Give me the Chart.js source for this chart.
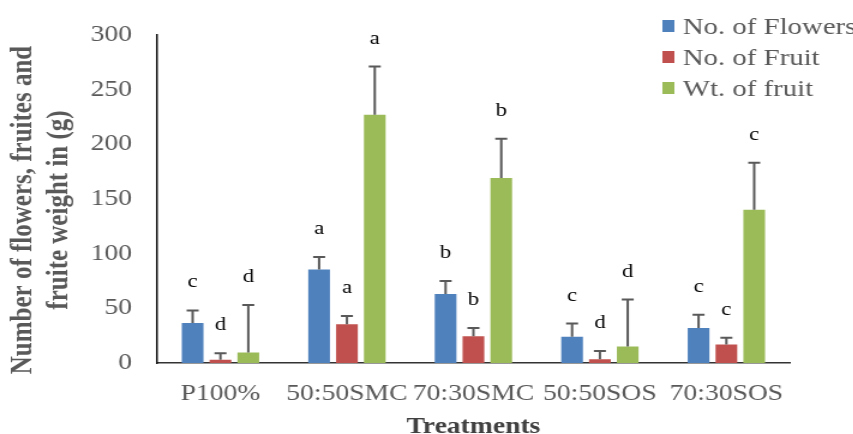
<!DOCTYPE html>
<html>
<head>
<meta charset="utf-8">
<script src="https://cdn.jsdelivr.net/npm/chart.js@4.4.0/dist/chart.umd.min.js"></script>
<style>
    html, body { margin: 0; padding: 0; background: #fff; overflow: hidden; }
    /* the reference is stretched sideways, so draw narrow and stretch */
    #wrap { width: 711px; height: 434px; transform: scaleX(1.2); transform-origin: 0 0; }
</style>
</head>
<body>
<div id="wrap"><canvas id="myChart"></canvas></div>
<script>
const treatments = ['P100%', '50:50SMC', '70:30SMC', '50:50SOS', '70:30SOS'];
const seriesNames = ['No. of Flowers', 'No. of Fruit', 'Wt. of fruit'];
const seriesColors = ['#4F81BD', '#C0504D', '#9BBB59'];

const flowers = [36.5, 85.5, 63, 24, 32];
const fruit = [3, 35.5, 24.5, 3.5, 17];
const fruitWeight = [9.5, 227, 169, 15, 140];

const flowersErr = [11.5, 11.5, 12, 12, 12];
const fruitErr = [6, 7.5, 7.5, 7.5, 6];
const fruitWeightErr = [43.5, 44, 36, 43, 43];

const flowersLetters = ['c', 'a', 'b', 'c', 'c'];
const fruitLetters = ['d', 'a', 'b', 'd', 'c'];
const fruitWeightLetters = ['d', 'a', 'b', 'd', 'c'];

const yTicks = [0, 50, 100, 150, 200, 250, 300];
const yTitle = ['Number of flowers, fruites and', 'fruite weight in (g)'];

const allValues = [flowers, fruit, fruitWeight];
const allErrors = [flowersErr, fruitErr, fruitWeightErr];
const allLetters = [flowersLetters, fruitLetters, fruitWeightLetters];

const serif = '"Liberation Serif", "Times New Roman", serif';

// upward error bars and the letters over them
const errorBars = {
    id: 'errorBars',
    afterDatasetsDraw(chart) {
        const ctx = chart.ctx;
        const yScale = chart.scales.y;
        ctx.save();
        chart.data.datasets.forEach((ds, i) => {
            const meta = chart.getDatasetMeta(i);
            meta.data.forEach((bar, j) => {
                const top = yScale.getPixelForValue(allValues[i][j] + allErrors[i][j]);
                ctx.strokeStyle = '#595959';
                ctx.lineWidth = 2;
                ctx.beginPath();
                ctx.moveTo(bar.x, bar.y);
                ctx.lineTo(bar.x, top);
                ctx.moveTo(bar.x - 5, top);
                ctx.lineTo(bar.x + 5, top);
                ctx.stroke();

                ctx.fillStyle = '#000';
                ctx.font = '19px ' + serif;
                ctx.textAlign = 'center';
                ctx.textBaseline = 'middle';
                ctx.fillText(allLetters[i][j], bar.x, top - 28);
            });
        });
        ctx.restore();
    }
};

// legend inside the plot at top right, plus the two-line y title
const extras = {
    id: 'extras',
    afterDraw(chart) {
        const ctx = chart.ctx;
        ctx.save();
        chart.data.datasets.forEach((ds, i) => {
            const cy = 26 + i * 31;
            ctx.fillStyle = ds.backgroundColor;
            ctx.fillRect(552, cy - 6, 10, 12);
            ctx.fillStyle = '#595959';
            ctx.font = '24px ' + serif;
            ctx.textAlign = 'left';
            ctx.textBaseline = 'alphabetic';
            ctx.fillText(ds.label, 569, cy + 8);
        });

        ctx.translate(20, 210);
        ctx.rotate(-Math.PI / 2);
        ctx.fillStyle = '#595959';
        ctx.font = 'bold 25px ' + serif;
        ctx.textAlign = 'center';
        ctx.textBaseline = 'middle';
        yTitle.forEach((line, k) => {
            ctx.fillText(line, 0, k * 30);
        });
        ctx.restore();
    }
};

const datasets = seriesNames.map((name, i) => ({
    label: name,
    data: allValues[i],
    backgroundColor: seriesColors[i],
    borderWidth: 0,
    categoryPercentage: 0.66,
    barPercentage: 0.78
}));

var ctx = document.getElementById('myChart').getContext('2d');
var myChart = new Chart(ctx, { //eslint-disable-line
    type: 'bar',
    data: {
        labels: treatments,
        datasets: datasets
    },
    options: {
        responsive: true,
        maintainAspectRatio: false,
        animation: false,
        layout: {
            padding: { top: 34, right: 53, left: 0, bottom: 0 }
        },
        plugins: {
            legend: { display: false },
            tooltip: { enabled: false }
        },
        scales: {
            x: {
                grid: { display: false, drawTicks: false },
                border: { display: true, color: '#333', width: 1.5 },
                ticks: {
                    autoSkip: false,
                    maxRotation: 0,
                    padding: 17,
                    color: '#595959',
                    font: { family: serif, size: 23 }
                },
                title: {
                    display: true,
                    text: 'Treatments',
                    color: '#404040',
                    font: { family: serif, size: 23, weight: 'bold', lineHeight: 0.6 },
                    padding: 0
                },
                afterFit(scale) {
                    scale.height = 71;
                }
            },
            y: {
                min: 0,
                max: 300,
                grid: { display: false, drawTicks: false },
                border: { display: true, color: '#111', width: 1.5 },
                afterBuildTicks(scale) {
                    scale.ticks = yTicks.map(v => ({ value: v }));
                },
                ticks: {
                    padding: 21,
                    color: '#595959',
                    font: { family: serif, size: 23 }
                },
                afterFit(scale) {
                    scale.width = 131;
                }
            }
        }
    },
    plugins: [errorBars, extras]
});
</script>
</body>
</html>
